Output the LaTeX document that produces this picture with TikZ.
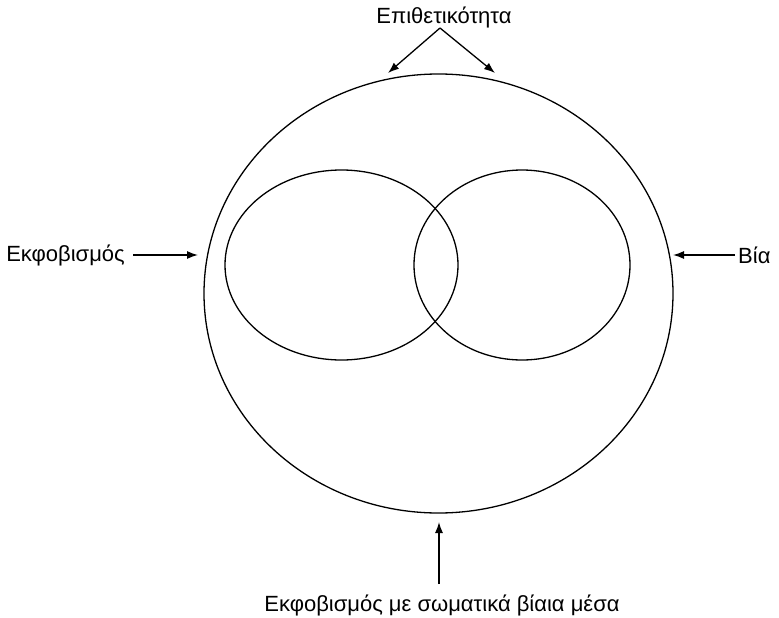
\documentclass[tikz,border=0pt]{standalone}
\usepackage{fontspec}
\setmainfont{Liberation Sans}
\usetikzlibrary{shapes.geometric,arrows.meta}

\tikzset{
  set/.style={draw, ellipse, line width=1.3pt, inner sep=0pt},
  lbl/.style={inner sep=0pt, font=\fontsize{22}{26}\selectfont},
  arr/.style={->, line width=1.3pt, >={Latex[length=11pt,width=8pt]}},
}

\begin{document}
\begin{tikzpicture}[x=1pt, y=-1pt]

    \useasboundingbox (0,0) rectangle (779,618);
    % draw the sets
    \node[set, minimum width=469pt, minimum height=439pt] (outer) at (438.5,293.5) {};
    \node[set, minimum width=233pt, minimum height=190pt] (left) at (341.5,265) {};
    \node[set, minimum width=216pt, minimum height=190pt] (right) at (522,265) {};

    % define coordinates for the arrow tips
    \coordinate (apex) at (440,28);
    \coordinate (tl) at (388,73);
    \coordinate (tr) at (495,73);
    \coordinate (tw) at (198,255);
    \coordinate (te) at (673,255);
    \coordinate (ts) at (439,522);

    % draw the labels and arrows
    \node[lbl] (aggr) at (444,17) {Επιθετικότητα};
    \node[lbl, anchor=east] (intim) at (125,255) {Εκφοβισμός};
    \node[lbl, anchor=west] (viol) at (738,255) {Βία};
    \node[lbl] (phys) at (442,605) {Εκφοβισμός με σωματικά βίαια μέσα};
    \draw[arr] (apex) -- (tl);
    \draw[arr] (apex) -- (tr);
    \draw[arr] (intim.east) ++(8,0) -- (tw);
    \draw[arr] (viol.west) ++(-3,0) -- (te);
    \draw[arr] (phys.north) ++(-3,-10) -- (ts);
  \end{tikzpicture}
\end{document}
